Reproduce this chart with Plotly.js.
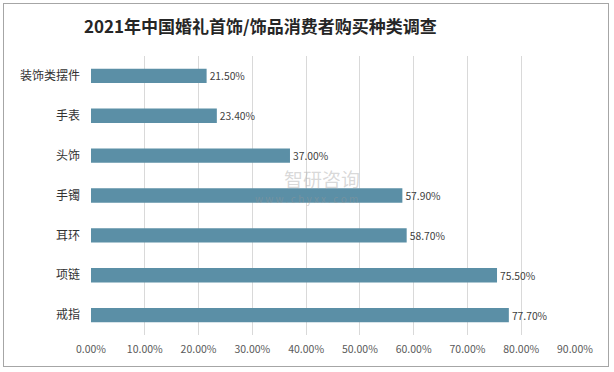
<!DOCTYPE html>
<html><head><meta charset="utf-8">
<script src="https://cdn.plot.ly/plotly-3.0.1.min.js"></script>
<style>
html,body{margin:0;padding:0;background:#fff;}
#wrap{position:relative;width:614px;height:372px;}
#chart{width:614px;height:372px;}
#frame{position:absolute;left:3px;top:3px;width:604px;height:362px;border:1px solid #A6A6A6;pointer-events:none;}
</style></head>
<body>
<div id="wrap"><div id="chart"></div><div id="frame"></div></div>
<script>
const categories = ["装饰类摆件","手表","头饰","手镯","耳环","项链","戒指"];
const values = [21.5, 23.4, 37.0, 57.9, 58.7, 75.5, 77.7];
const tickVals = [0,10,20,30,40,50,60,70,80,90];
const tickText = tickVals.map(v => v.toFixed(2) + "%");
const valueLabels = values.map(v => v.toFixed(2) + "%");

const cjk = '"Noto Sans CJK SC", "Noto Sans", sans-serif';
const trace = {
  type: 'bar', orientation: 'h',
  y: categories, x: values,
  text: valueLabels, textposition: 'outside', cliponaxis: false,
  textfont: {family: cjk, size: 11.5, color: '#404040'},
  marker: {color: '#5B8FA6'},
  width: 0.36, hoverinfo: 'none'
};
const layout = {
  width: 614, height: 372,
  margin: {l: 91, r: 39, t: 56, b: 37},
  paper_bgcolor: '#fff', plot_bgcolor: '#fff',
  showlegend: false,
  title: {text: '<b>2021年中国婚礼首饰/饰品消费者购买种类调查</b>', x: 0.424, xanchor: 'center', y: 0.928, yanchor: 'middle',
    font: {family: cjk, size: 17, color: '#262626'}},
  xaxis: {range: [0, 90], tickvals: tickVals, ticktext: tickText, showgrid: true, gridcolor: '#D9D9D9', gridwidth: 1,
    zeroline: false, showline: false, ticks: '', tickfont: {family: cjk, size: 10.5, color: '#595959'}, ticklabelstandoff: 6, fixedrange: true},
  yaxis: {type: 'category', categoryorder: 'array', categoryarray: categories, autorange: 'reversed',
    showgrid: false, zeroline: false, showline: false, ticks: '', ticklabelstandoff: 10,
    tickfont: {family: cjk, size: 12, color: '#333333'}},
  annotations: [
    {xref: 'paper', yref: 'paper', x: 0.477, y: 0.56, text: '智研咨询', showarrow: false,
      font: {family: cjk, size: 19, color: 'rgba(170,170,170,0.45)'}},
    {xref: 'paper', yref: 'paper', x: 0.446, y: 0.488, text: 'w w w . c h y x x . c o m', showarrow: false,
      font: {family: cjk, size: 10, color: 'rgba(150,150,150,0.45)'}}
  ]
};
Plotly.newPlot('chart', [trace], layout, {displayModeBar: false, staticPlot: true});
</script>
</body></html>
